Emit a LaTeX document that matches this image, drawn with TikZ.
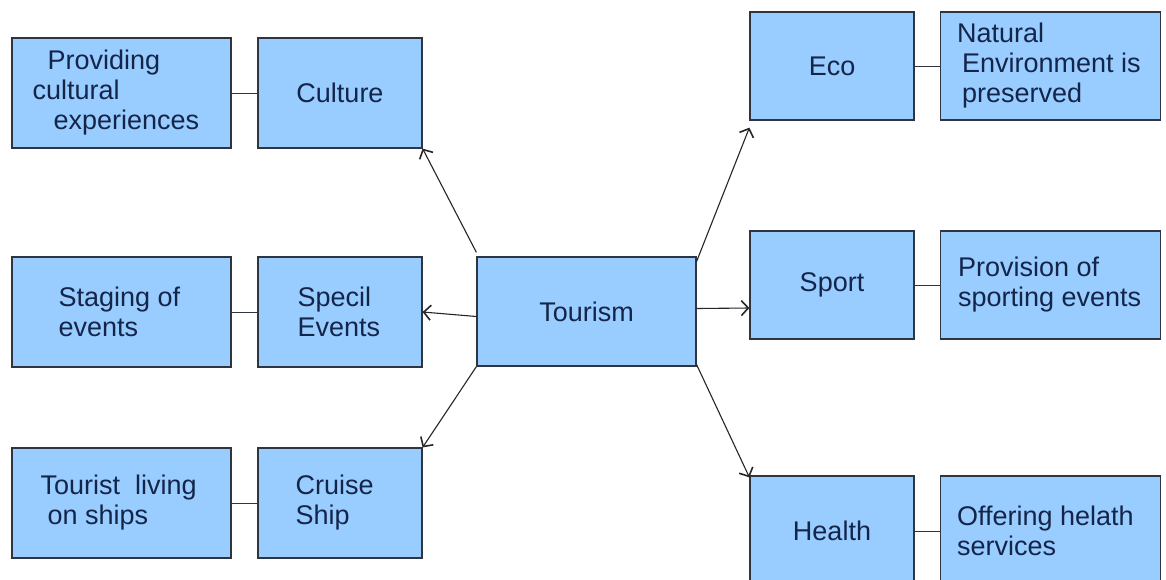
\documentclass[tikz,border=0pt]{standalone}
\usepackage{fontspec}
\setmainfont{Liberation Sans}
\usetikzlibrary{arrows.meta}
\definecolor{boxblue}{HTML}{99CCFF}
\definecolor{edgecol}{HTML}{2E3440}
\definecolor{txtcol}{HTML}{14254A}
\begin{document}
\begin{tikzpicture}[x=1pt,y=-1pt,
  box/.style={draw=edgecol, line width=1.2pt, fill=boxblue, inner sep=0pt, text=txtcol,
    font=\fontsize{27}{30}\selectfont, align=center},
  txt/.style={inner sep=0pt, text=txtcol, font=\fontsize{27}{30}\selectfont, align=left, anchor=west},
  link/.style={draw=edgecol, line width=0.9pt},
  arr/.style={draw=black!85, line width=1.1pt, -{Straight Barb[length=7pt,width=15pt,line width=1.6pt]}}]
\useasboundingbox (0,0) rectangle (1166,579);
\clip (0,0) rectangle (1166,579);
\fill[white] (0,0) rectangle (1166,579);

% left column
\node[box, minimum width=219pt, minimum height=110pt] (prov) at (121.5,93) {};
\node[box, minimum width=164pt, minimum height=110pt] (cult) at (340,93) {Culture};
\node[box, minimum width=219pt, minimum height=110pt] (stag) at (121.5,312) {};
\node[box, minimum width=164pt, minimum height=110pt] (spec) at (340,312) {};
\node[box, minimum width=219pt, minimum height=110pt] (ship) at (121.5,503) {};
\node[box, minimum width=164pt, minimum height=110pt] (crui) at (340,503) {};

% centre
\node[box, minimum width=219pt, minimum height=109pt] (tour) at (586.5,311.5) {Tourism};

% right column
\node[box, minimum width=164pt, minimum height=108pt] (eco) at (832,66) {Eco};
\node[box, minimum width=220pt, minimum height=108pt] (nat) at (1050.5,66) {};
\node[box, minimum width=164pt, minimum height=108pt] (sport) at (832,285) {Sport};
\node[box, minimum width=220pt, minimum height=108pt] (spev) at (1050.5,285) {};
\node[box, minimum width=164pt, minimum height=110pt] (health) at (832,531) {Health};
\node[box, minimum width=220pt, minimum height=110pt] (offer) at (1050.5,531) {};

% texts
\node[txt] (provt) at ([xshift=21pt]prov.west) {\hspace*{15pt}Providing\\cultural\\\hspace*{21pt}experiences};
\node[txt] (stagt) at ([xshift=47pt]stag.west) {Staging of\\events};
\node[txt] (spect) at ([xshift=40pt]spec.west) {Specil\\Events};
\node[txt] (shipt) at ([xshift=29pt]ship.west) {Tourist\ \ living\\\hspace*{7pt}on ships};
\node[txt] (cruit) at ([xshift=38pt]crui.west) {Cruise\\Ship};
\node[txt] (natt) at ([xshift=17pt]nat.west) {Natural\\\hspace*{5pt}Environment is\\\hspace*{5pt}preserved};
\node[txt] (spevt) at ([xshift=18pt]spev.west) {Provision of\\sporting events};
\node[txt] (offt) at ([xshift=17pt]offer.west) {Offering helath\\services};

% links
\draw[link] (prov.east) -- (cult.west);
\draw[link] (stag.east) -- (spec.west);
\draw[link] (ship.east) -- (crui.west);
\draw[link] (eco.east) -- (nat.west);
\draw[link] (sport.east) -- (spev.west);
\draw[link] (health.east) -- (offer.west);

% arrows
\draw[arr] ([yshift=4pt]tour.north west) -- (cult.south east);
\draw[arr] ([yshift=-5pt]tour.west) -- (spec.east);
\draw[arr] (tour.south west) -- (crui.north east);
\draw[arr] ([yshift=-5pt]tour.north east) -- ([yshift=-7pt]eco.south west);
\draw[arr] ([yshift=3pt]tour.east) -- ([yshift=-23pt]sport.west);
\draw[arr] ([yshift=2pt]tour.south east) -- ([yshift=-2pt]health.north west);
\end{tikzpicture}
\end{document}
